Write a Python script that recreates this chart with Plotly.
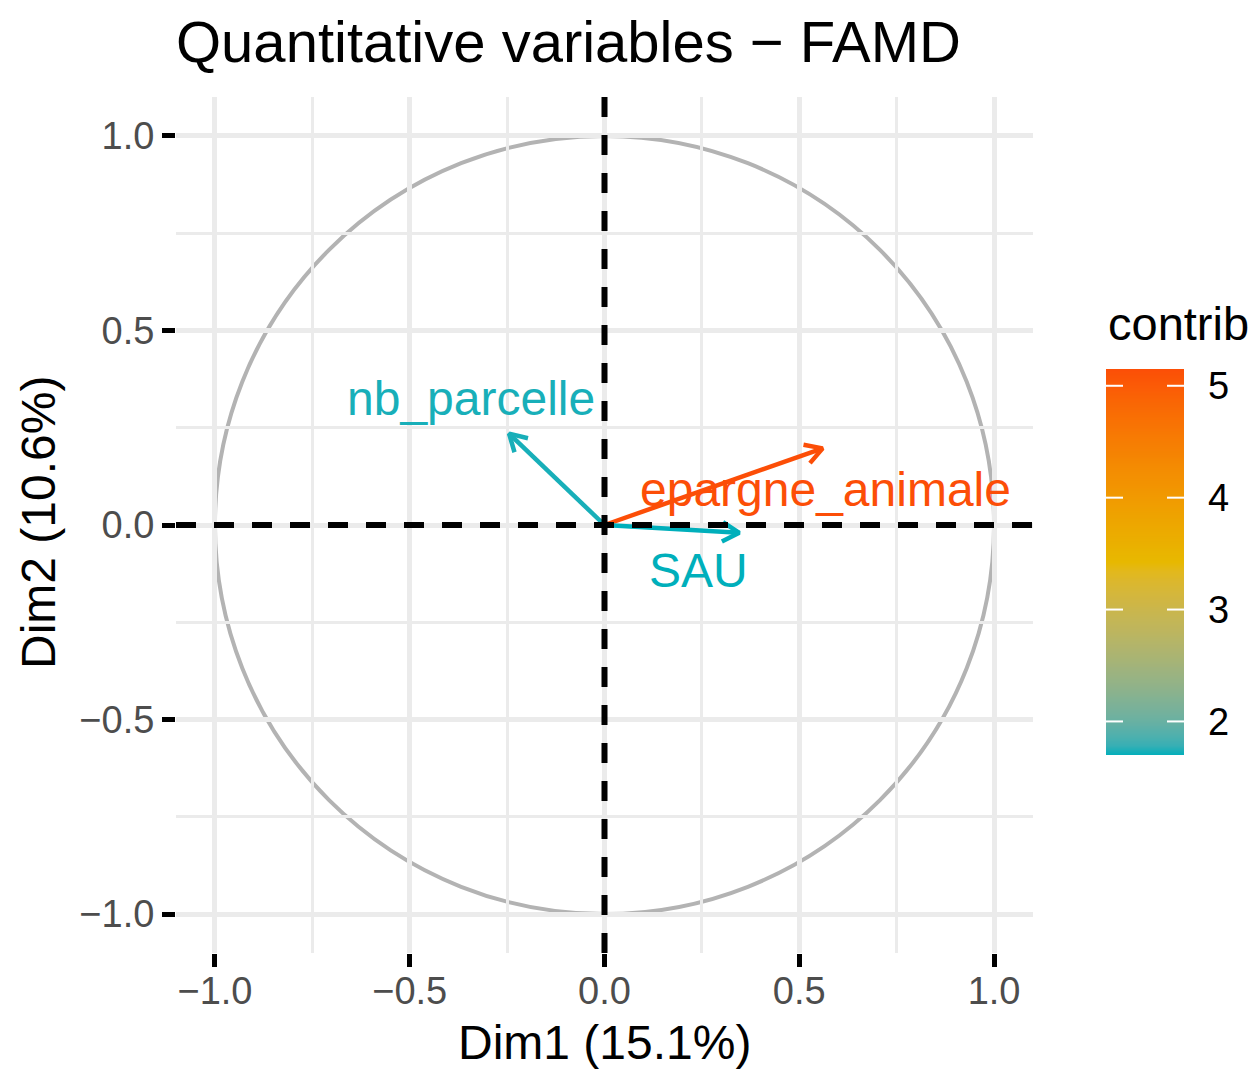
import numpy as np
import plotly.graph_objects as go

# Variable coordinates on the first two FAMD dimensions and their contributions
variables = ["nb_parcelle", "epargne_animale", "SAU"]
dim1 = [-0.245, 0.560, 0.346]
dim2 = [0.235, 0.197, -0.020]
contrib = [1.72, 5.15, 1.70]

x_title = "Dim1 (15.1%)"
y_title = "Dim2 (10.6%)"
tick_vals = [-1.0, -0.5, 0.0, 0.5, 1.0]
tick_text = ["\u22121.0", "\u22120.5", "0.0", "0.5", "1.0"]
cbar_ticks = [2, 3, 4, 5]

# Label placement relative to each arrow tip (data units)
label_offsets = {
    "nb_parcelle": (-0.099, 0.091),
    "epargne_animale": (0.008, -0.107),
    "SAU": (-0.105, -0.096),
}

FONT = "Liberation Sans, Arial, sans-serif"
GRAD_COLS = ["#00AFBB", "#E7B800", "#FC4E07"]
W, H = 1257, 1070


# --- colour gradient interpolated in CIE Lab space -------------------------
def _hex_to_rgb(h):
    h = h.lstrip("#")
    return np.array([int(h[i:i + 2], 16) / 255 for i in (0, 2, 4)])


def _srgb_to_lin(c):
    return np.where(c <= 0.04045, c / 12.92, ((c + 0.055) / 1.055) ** 2.4)


def _lin_to_srgb(c):
    c = np.clip(c, 0, 1)
    return np.where(c <= 0.0031308, 12.92 * c, 1.055 * c ** (1 / 2.4) - 0.055)


_M = np.array([[0.4124564, 0.3575761, 0.1804375],
               [0.2126729, 0.7151522, 0.0721750],
               [0.0193339, 0.1191920, 0.9503041]])
_WHITE = np.array([0.95047, 1.0, 1.08883])


def _rgb_to_lab(rgb):
    xyz = _M @ _srgb_to_lin(rgb) / _WHITE
    f = np.where(xyz > 216 / 24389, np.cbrt(xyz), (24389 / 27 * xyz + 16) / 116)
    return np.array([116 * f[1] - 16, 500 * (f[0] - f[1]), 200 * (f[1] - f[2])])


def _lab_to_rgb(lab):
    fy = (lab[0] + 16) / 116
    fx = fy + lab[1] / 500
    fz = fy - lab[2] / 200
    f = np.array([fx, fy, fz])
    xyz = np.where(f ** 3 > 216 / 24389, f ** 3, (116 * f - 16) / (24389 / 27)) * _WHITE
    return _lin_to_srgb(np.linalg.solve(_M, xyz))


_LABS = [_rgb_to_lab(_hex_to_rgb(c)) for c in GRAD_COLS]


def grad_color(t):
    t = float(np.clip(t, 0, 1))
    seg = min(int(t * (len(_LABS) - 1)), len(_LABS) - 2)
    u = t * (len(_LABS) - 1) - seg
    rgb = _lab_to_rgb(_LABS[seg] * (1 - u) + _LABS[seg + 1] * u)
    r, g, b = (np.round(rgb * 255)).astype(int)
    return f"rgb({r},{g},{b})"


colorscale = [[s, grad_color(s)] for s in np.linspace(0, 1, 41)]
cmin, cmax = min(contrib), max(contrib)
colors = [grad_color((c - cmin) / (cmax - cmin)) for c in contrib]

# Page layout in pixels: main panel and the colour-bar strip
PL, PR, PT, PB = 176, 1033, 97, 953
CB_LEFT, CB_W, CB_TOP, CB_BOT = 1106, 78, 369, 755
fx = lambda p: p / W
fy = lambda p: 1 - p / H

fig = go.Figure()

# Arrows: shaft from the origin plus an open two-stroke head
head_len, head_ang = 0.05, np.deg2rad(30)
for name, x, y, col in zip(variables, dim1, dim2, colors):
    ang = np.arctan2(y, x)
    hx = [x - head_len * np.cos(ang - head_ang), x, x - head_len * np.cos(ang + head_ang)]
    hy = [y - head_len * np.sin(ang - head_ang), y, y - head_len * np.sin(ang + head_ang)]
    fig.add_trace(go.Scatter(x=[0, x], y=[0, y], mode="lines",
                             line=dict(color=col, width=4.5), hoverinfo="skip", showlegend=False))
    fig.add_trace(go.Scatter(x=hx, y=hy, mode="lines",
                             line=dict(color=col, width=4.5), hoverinfo="skip", showlegend=False))
    dx, dy = label_offsets[name]
    fig.add_annotation(x=x + dx, y=y + dy, text=name, showarrow=False,
                       xanchor="center", yanchor="middle",
                       font=dict(family=FONT, size=48, color=col))

# Contribution colour bar drawn as a one-column heatmap on its own axes
levels = np.linspace(cmin, cmax, 400)
fig.add_trace(go.Heatmap(
    z=[[v] for v in levels], y=levels, x=[0],
    colorscale=colorscale, zmin=cmin, zmax=cmax, showscale=False,
    hoverinfo="skip", xaxis="x2", yaxis="y2"))

# White tick marks inside both edges of the colour bar
for v in cbar_ticks:
    for xa, xb in [(0, 17 / CB_W), (1 - 17 / CB_W, 1)]:
        fig.add_shape(type="line", xref="x2 domain", yref="y2",
                      x0=xa, x1=xb, y0=v, y1=v, layer="above",
                      line=dict(color="white", width=2))

# Unit correlation circle
fig.add_shape(type="circle", xref="x", yref="y", x0=-1, y0=-1, x1=1, y1=1,
              line=dict(color="#B3B3B3", width=4), layer="below")

# Dashed reference lines through the origin
fig.add_shape(type="line", xref="x domain", yref="y", x0=0, x1=1, y0=0, y1=0,
              line=dict(color="black", width=6, dash="20px,18px"))
fig.add_shape(type="line", xref="x", yref="y domain", x0=0, x1=0, y0=0, y1=1,
              line=dict(color="black", width=6, dash="20px,18px"))

axis_common = dict(
    range=[-1.1, 1.1], tickvals=tick_vals, ticktext=tick_text,
    showgrid=True, gridcolor="#EBEBEB", gridwidth=5,
    minor=dict(dtick=0.25, tick0=0, showgrid=True, gridcolor="#EBEBEB", gridwidth=2.5),
    zeroline=False, showline=False, automargin=False,
    ticks="outside", ticklen=13, tickwidth=5, tickcolor="black",
    tickfont=dict(family=FONT, size=38, color="#4D4D4D"),
    fixedrange=True,
)

fig.update_layout(
    width=W, height=H,
    margin=dict(l=0, r=0, t=0, b=0, pad=0, autoexpand=False),
    paper_bgcolor="white", plot_bgcolor="white",
    xaxis=dict(axis_common, domain=[fx(PL), fx(PR)], anchor="y", ticklabelstandoff=-9),
    yaxis=dict(axis_common, domain=[fy(PB), fy(PT)], anchor="x"),
    xaxis2=dict(domain=[fx(CB_LEFT), fx(CB_LEFT + CB_W)], anchor="y2", range=[-0.5, 0.5],
                visible=False, fixedrange=True, automargin=False),
    yaxis2=dict(domain=[fy(CB_BOT), fy(CB_TOP)], anchor="x2", range=[cmin, cmax],
                side="right", tickvals=cbar_ticks, ticks="", showgrid=False,
                zeroline=False, showline=False, ticklabelstandoff=23, automargin=False,
                tickfont=dict(family=FONT, size=38, color="black"), fixedrange=True),
    title=dict(text="Quantitative variables \u2212 FAMD", x=fx(PL), xref="container",
               xanchor="left", y=fy(42), yref="container", yanchor="middle",
               automargin=False,
               font=dict(family=FONT, size=58, color="black")),
    annotations=list(fig.layout.annotations) + [
        dict(text="contrib", x=fx(1106), y=fy(323), xref="paper", yref="paper",
             showarrow=False, xanchor="left", yanchor="middle",
             font=dict(family=FONT, size=47, color="black")),
        dict(text=x_title, x=fx((PL + PR) / 2), y=fy(1042), xref="paper", yref="paper",
             showarrow=False, xanchor="center", yanchor="middle",
             font=dict(family=FONT, size=48, color="black")),
        dict(text=y_title, x=fx(38), y=fy(523), xref="paper", yref="paper",
             showarrow=False, xanchor="center", yanchor="middle", textangle=-90,
             font=dict(family=FONT, size=48, color="black")),
    ],
)

fig.write_html("out.html")
